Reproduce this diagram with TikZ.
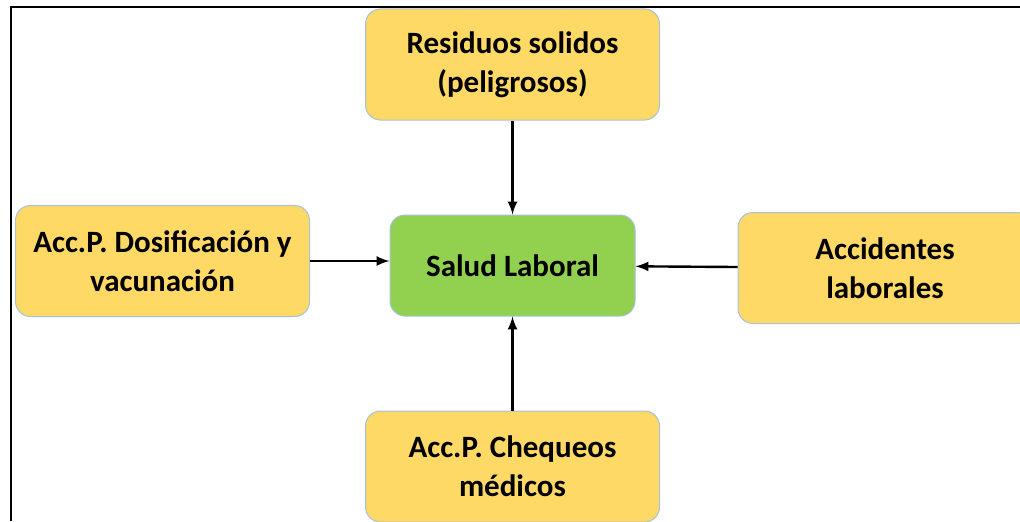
\documentclass[tikz,border=0pt]{standalone}
\usepackage{fontspec}
\setmainfont{Carlito}
\usetikzlibrary{arrows}
\definecolor{amarillo}{RGB}{255,217,102}
\definecolor{verde}{RGB}{146,208,80}
\definecolor{borde}{RGB}{165,194,220}

\begin{document}
\begin{tikzpicture}[x=0.5pt,y=0.5pt,node distance=100.5pt]

\tikzstyle{am} = [rectangle, rounded corners=7.5pt, minimum width=147pt, minimum height=55.5pt, align=center, fill=amarillo, draw=borde, line width=0.5pt, font=\fontsize{15.5pt}{19.5pt}\selectfont\bfseries]
\tikzstyle{ve} = [am, fill=verde, minimum width=122.5pt, minimum height=50.5pt]
\tikzstyle{fl} = [-latex, line width=1.2pt]
\useasboundingbox (0,0) rectangle (1020,521);
\draw [line width=1.3pt] (11,0) -- (11,514) -- (1020,514);
\node (sal) [ve] at (512.5,255.5) {Salud Laboral};
\node (res) [am, above of=sal] {Residuos solidos\\(peligrosos)};
\node (dos) [am, left of=sal, xshift=-74.5pt, yshift=2.25pt] {Acc.P. Dosificación y\\vacunación};
\node (acc) [am, right of=sal, xshift=85.75pt, yshift=-1.25pt] {Accidentes\\laborales};
\node (che) [am, below of=sal] {Acc.P. Chequeos\\médicos};
\draw [fl] (res)--(sal);
\draw [fl] (dos.east)--(dos.east -| sal.west);
\draw [fl] (acc)--(sal);
\draw [fl] (che)--(sal);
\end{tikzpicture}
\end{document}
